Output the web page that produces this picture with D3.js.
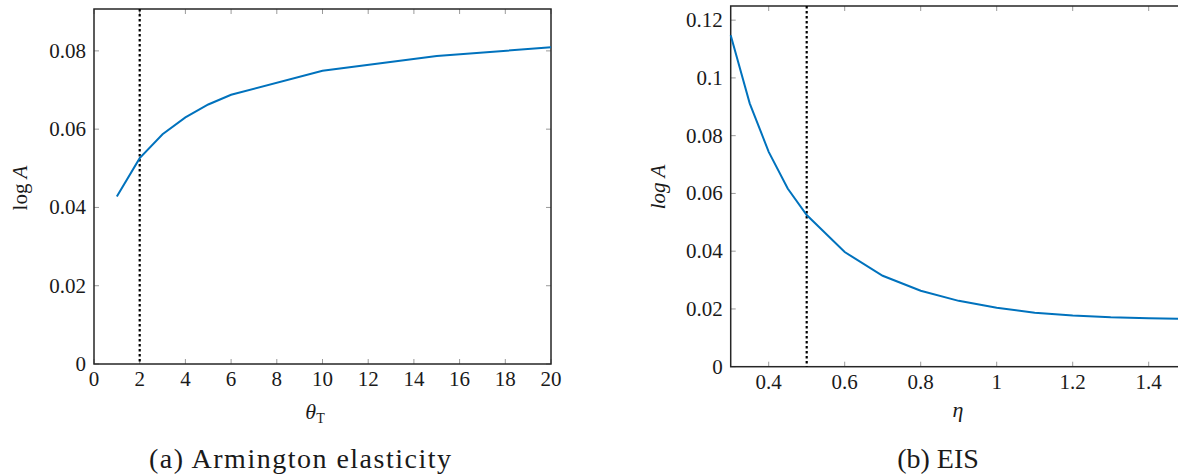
<!DOCTYPE html>
<html><head><meta charset="utf-8">
<script src="https://cdn.jsdelivr.net/npm/d3@7"></script>
<style>
html,body{margin:0;padding:0;background:#fff;}
svg{display:block;}
</style></head>
<body>
<svg id="chart" width="1178" height="475" font-family="'Liberation Serif', 'Times New Roman', 'DejaVu Serif', serif"></svg>
<script>
// ---- data ----
const thetaT = [1, 2, 3, 4, 5, 6, 10, 15, 20];
const logA_theta = [0.0428, 0.0526, 0.0587, 0.0630, 0.0663, 0.0688, 0.0749, 0.0787, 0.0809];
const eta = [0.3, 0.35, 0.4, 0.45, 0.5, 0.6, 0.7, 0.8, 0.9, 1.0, 1.1, 1.2, 1.3, 1.4, 1.5];
const logA_eta = [0.1148, 0.0912, 0.0744, 0.0617, 0.0525, 0.0397, 0.0315, 0.0263, 0.0228, 0.0204, 0.0187, 0.0177, 0.0171, 0.0168, 0.0166];
const xTicksA = [0, 2, 4, 6, 8, 10, 12, 14, 16, 18, 20];
const yTicksA = [0, 0.02, 0.04, 0.06, 0.08];
const xTicksB = [0.4, 0.6, 0.8, 1, 1.2, 1.4];
const yTicksB = [0, 0.02, 0.04, 0.06, 0.08, 0.1, 0.12];
const baselineA = 2, baselineB = 0.5;
const captionA = "(a) Armington elasticity", captionB = "(b) EIS";

const FONT = "'Liberation Serif', 'Times New Roman', 'DejaVu Serif', serif";
const svg = d3.select("#chart");
const lineColor = "#0072BD";
const txtColor = "#1a1a1a";

function T(sel){ return sel.attr("font-family",FONT).attr("fill",txtColor); }

function panel(opts){
  const {x0,x1,yTop,yBot,xDom,yDom,xs,ys,xt,yt,base,fmtY,fmtX} = opts;
  const x = d3.scaleLinear().domain(xDom).range([x0,x1]);
  const y = d3.scaleLinear().domain(yDom).range([yBot,yTop]);
  const g = svg.append("g");
  const tickLen = 5;
  const tk = g.append("g").attr("stroke","#9a9a9a").attr("stroke-width",1);
  xt.forEach(v=>{
    const px = x(v);
    tk.append("line").attr("x1",px).attr("x2",px).attr("y1",yBot).attr("y2",yBot-tickLen);
    tk.append("line").attr("x1",px).attr("x2",px).attr("y1",yTop).attr("y2",yTop+tickLen);
  });
  yt.forEach(v=>{
    const py = y(v);
    tk.append("line").attr("x1",x0).attr("x2",x0+tickLen).attr("y1",py).attr("y2",py);
    tk.append("line").attr("x1",x1).attr("x2",x1-tickLen).attr("y1",py).attr("y2",py);
  });
  g.append("rect").attr("x",x0).attr("y",yTop).attr("width",x1-x0).attr("height",yBot-yTop)
    .attr("fill","none").attr("stroke","#262626").attr("stroke-width",1.5);
  xt.forEach(v=>{
    T(g.append("text")).attr("x",x(v)).attr("y",yBot+22).attr("text-anchor","middle")
     .attr("font-size",21).text(fmtX(v));
  });
  yt.forEach(v=>{
    T(g.append("text")).attr("x",x0-8).attr("y",y(v)+7).attr("text-anchor","end")
     .attr("font-size",21).text(fmtY(v));
  });
  g.append("line").attr("x1",x(base)).attr("x2",x(base)).attr("y1",yTop).attr("y2",yBot)
    .attr("stroke","#000").attr("stroke-width",2.2).attr("stroke-dasharray","2.5,2.5");
  const pts = xs.map((v,i)=>[v,ys[i]]);
  g.append("path").datum(pts)
    .attr("d", d3.line().x(d=>x(d[0])).y(d=>y(d[1])))
    .attr("fill","none").attr("stroke",lineColor).attr("stroke-width",2);
  return {x,y,g};
}

const fmtY = v => v===0 ? "0" : String(+v.toFixed(2));
const fmtX = v => String(+v.toFixed(1));

panel({x0:94,x1:551,yTop:9,yBot:364,xDom:[0,20],yDom:[0,0.0907],
  xs:thetaT,ys:logA_theta,xt:xTicksA,yt:yTicksA,base:baselineA,fmtY,fmtX});
panel({x0:730.7,x1:1186.7,yTop:6,yBot:366.7,xDom:[0.3,1.5],yDom:[0,0.1249],
  xs:eta,ys:logA_eta,xt:xTicksB,yt:yTicksB,base:baselineB,fmtY,fmtX});

const tA = T(svg.append("text")).attr("x",315).attr("y",419).attr("text-anchor","middle").attr("font-size",22);
tA.append("tspan").attr("font-style","italic").text("θ");
tA.append("tspan").attr("font-size",14).attr("dy",4).text("T");

T(svg.append("text")).attr("x",958).attr("y",417).attr("text-anchor","middle")
  .attr("font-size",22).attr("font-style","italic").text("η");

const yA = T(svg.append("text")).attr("transform","translate(27,188) rotate(-90)")
  .attr("text-anchor","middle").attr("font-size",21);
yA.append("tspan").text("log ");
yA.append("tspan").attr("font-style","italic").text("A");

T(svg.append("text")).attr("transform","translate(665,187) rotate(-90)")
  .attr("text-anchor","middle").attr("font-size",21).attr("font-style","italic").text("log A");

T(svg.append("text")).attr("x",300).attr("y",468).attr("text-anchor","middle")
  .attr("font-size",28).attr("textLength",302).attr("lengthAdjust","spacing").text(captionA);
T(svg.append("text")).attr("x",938).attr("y",468).attr("text-anchor","middle")
  .attr("font-size",28).text(captionB);
</script>
</body></html>
